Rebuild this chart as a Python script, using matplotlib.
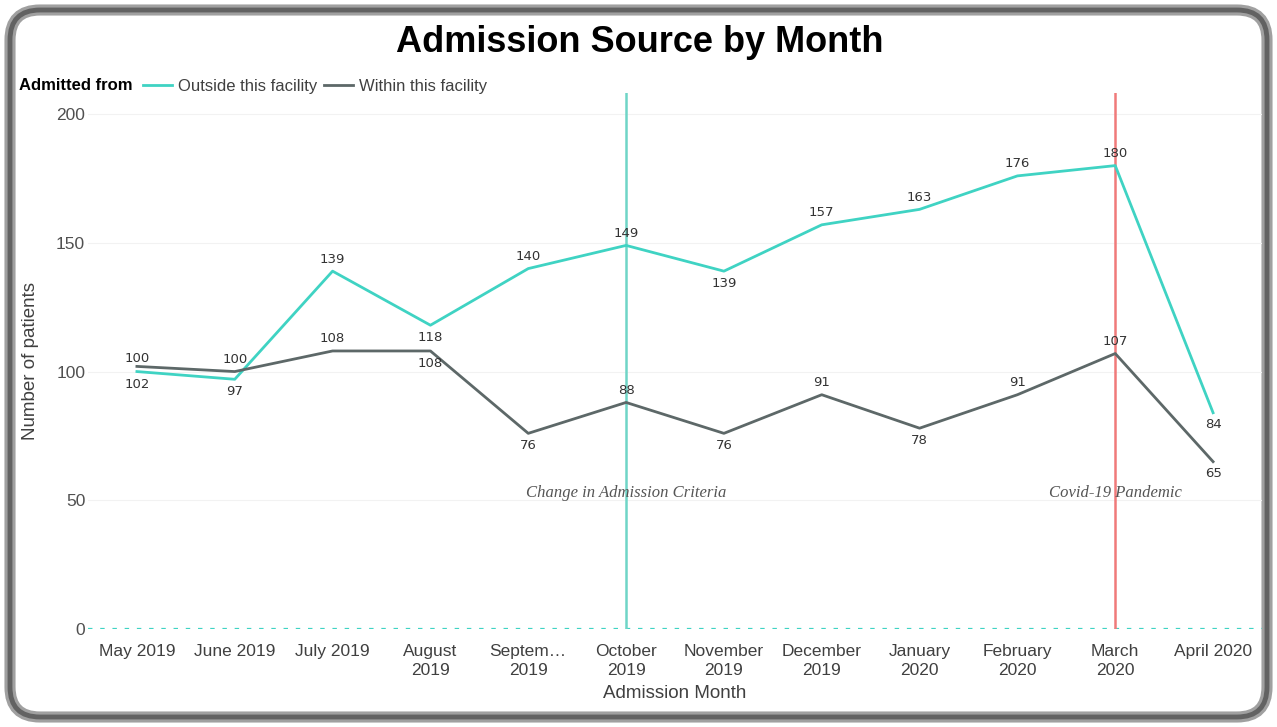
import numpy as np
import matplotlib.pyplot as plt
from matplotlib.patches import FancyBboxPatch
from matplotlib.lines import Line2D

months = ["May 2019", "June 2019", "July 2019", "August\n2019", "Septem…\n2019",
          "October\n2019", "November\n2019", "December\n2019", "January\n2020",
          "February\n2020", "March\n2020", "April 2020"]
outside = [100, 97, 139, 118, 140, 149, 139, 157, 163, 176, 180, 84]
within = [102, 100, 108, 108, 76, 88, 76, 91, 78, 91, 107, 65]
yticks = [0, 50, 100, 150, 200]

# where each data label sits (1 above the line, -1 below)
out_side = [1, -1, 1, -1, 1, 1, -1, 1, 1, 1, 1, -1]
win_side = [-1, 1, 1, -1, -1, 1, -1, 1, -1, 1, 1, -1]

TEAL = "#3fd3c3"
GREY = "#5d6868"
RED = "#f07a7a"

W, H = 1277, 727
fig = plt.figure(figsize=(W / 100, H / 100), dpi=100)
fig.patch.set_facecolor("white")

# frame around the card
bg = fig.add_axes([0, 0, 1, 1])
bg.set_xlim(0, W)
bg.set_ylim(H, 0)
bg.axis("off")
bg.add_patch(FancyBboxPatch((10, 10), W - 20, H - 20, boxstyle="round,pad=0,rounding_size=30",
                            fc="white", ec="#a0a0a0", lw=8))
bg.add_patch(FancyBboxPatch((10, 10), W - 20, H - 20, boxstyle="round,pad=0,rounding_size=30",
                            fc="none", ec="#626262", lw=3.5))

# plot area in pixels
left, right, top, bottom = 88, 1262, 93, 629
ax = fig.add_axes([left / W, 1 - bottom / H, (right - left) / W, (bottom - top) / H])
ax.set_facecolor("none")
x = np.arange(len(months))
ax.set_xlim(-0.5, len(months) - 0.5)
ax.set_ylim(0, 208.2)

for v in yticks[1:]:
    ax.axhline(v, color="#f2f2f2", lw=0.8, zorder=0)
ax.axhline(0, color=TEAL, lw=1.6, ls=(0, (2, 3.5)), zorder=1)

ax.axvline(5, color="#6fd5c7", lw=1.8, zorder=2)
ax.axvline(10, color=RED, lw=1.8, zorder=2)

ax.plot(x, outside, color=TEAL, lw=2, zorder=3)
ax.plot(x, within, color=GREY, lw=2, zorder=3)

for i in range(len(x)):
    ax.annotate(str(outside[i]), (x[i], outside[i]), xytext=(0, 4 * out_side[i]),
                textcoords="offset points", ha="center",
                va="bottom" if out_side[i] > 0 else "top", fontsize=9.5, color="#333333")
    ax.annotate(str(within[i]), (x[i], within[i]), xytext=(0, 4 * win_side[i]),
                textcoords="offset points", ha="center",
                va="bottom" if win_side[i] > 0 else "top", fontsize=9.5, color="#333333")
# May labels sit outside the pair of lines
ax.texts[0].set_position((0, 5))
ax.texts[1].set_position((0, -8))

ax.text(5, 53, "Change in Admission Criteria", ha="center", va="center", fontsize=12,
        style="italic", family="Liberation Serif", color="#555555")
ax.text(10, 53, "Covid-19 Pandemic", ha="center", va="center", fontsize=12,
        style="italic", family="Liberation Serif", color="#555555")

ax.set_xticks(x)
ax.set_xticklabels(months, fontsize=12.5, color="#404040", family="Liberation Sans",
                   linespacing=1.35)
ax.set_yticks(yticks)
ax.set_yticklabels([str(v) for v in yticks], fontsize=12.5, color="#505050",
                   family="Liberation Sans")
ax.tick_params(axis="x", length=0, pad=11)
ax.tick_params(axis="y", length=0, pad=2)
for s in ax.spines.values():
    s.set_visible(False)

ax.set_xlabel("Admission Month", fontsize=13.5, color="#404040", family="Liberation Sans",
              labelpad=5)
ax.set_ylabel("Number of patients", fontsize=13.5, color="#404040", family="Liberation Sans",
              labelpad=12)

fig.text(640 / W, 1 - 42 / H, "Admission Source by Month", ha="center", va="center",
         fontsize=26, fontweight="bold", family="Liberation Sans", color="black")

# legend row
ly = 1 - 86 / H
fig.text(19 / W, ly, "Admitted from", ha="left", va="center", fontsize=12,
         fontweight="bold", family="Liberation Sans", color="black")
bg.add_line(Line2D([143, 172], [85, 85], color=TEAL, lw=2))
fig.text(178 / W, ly, "Outside this facility", ha="left", va="center", fontsize=12,
         family="Liberation Sans", color="#404040")
bg.add_line(Line2D([324, 353], [85, 85], color=GREY, lw=2))
fig.text(359 / W, ly, "Within this facility", ha="left", va="center", fontsize=12,
         family="Liberation Sans", color="#404040")

fig.savefig("out.png", dpi=100)
